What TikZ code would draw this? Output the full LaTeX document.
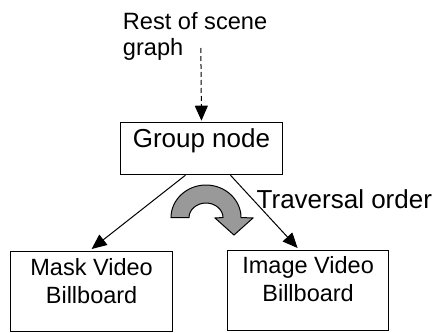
\documentclass[tikz,border=0pt]{standalone}
\usepackage{fontspec}
\setmainfont{Liberation Sans}
\usetikzlibrary{arrows.meta,calc}
\tikzset{
  box/.style={draw, line width=1.2pt, inner sep=0pt, anchor=north west, align=center},
  boxtext/.style={font=\fontsize{23.5}{28}\selectfont},
  arr/.style={line width=1pt, -{Triangle[length=15pt,width=13pt]}},
  dasharr/.style={arr, dash pattern=on 5pt off 3pt},
  turn/.style={draw, line width=1pt, fill=black!40, line join=miter}
}
\begin{document}
\begin{tikzpicture}[x=1pt,y=-1pt]
\useasboundingbox (0,0) rectangle (433,332);
% boxes
\node[box, minimum width=161.7pt, text height=25.3pt, text depth=27pt,
      font=\fontsize{26}{30}\selectfont] (g) at (120,121.7) {Group node};
\node[box, boxtext, minimum width=162pt, text height=52pt, text depth=28pt] (m) at (10,251) {Mask Video\\Billboard};
\node[box, boxtext, minimum width=161pt, text height=51pt, text depth=29pt] (i) at (227,250) {Image Video\\Billboard};
% free texts
\node[inner sep=0pt, anchor=base west, align=left, font=\fontsize{23.6}{26}\selectfont] (rest) at (122.7,55) {Rest of scene\\graph};
\node[inner sep=0pt, anchor=base west, font=\fontsize{26}{30}\selectfont] (trav) at (256.5,208) {Traversal order};
% connectors
\coordinate (top) at (200.85,48);
\draw[dasharr] (top) -- ([yshift=1pt]g.north);
\draw[arr] ([xshift=-16pt]g.south) -- ([yshift=2pt]m.north);
\draw[arr] ([xshift=29pt]g.south) -- ([xshift=-10.5pt,yshift=2pt]i.north);
% curved traversal arrow
\draw[turn] (171,217.5) .. controls (171,199.8) and (186.7,185) .. (206,185)
  .. controls (225.3,185) and (241,199.8) .. (241,217.5)
  -- (253,218) -- (234,235) -- (215,218) -- (223,217.5)
  .. controls (223,209.8) and (215.4,203) .. (206,203)
  .. controls (196.6,203) and (189,209.8) .. (189,217.5) -- cycle;
\end{tikzpicture}
\end{document}
